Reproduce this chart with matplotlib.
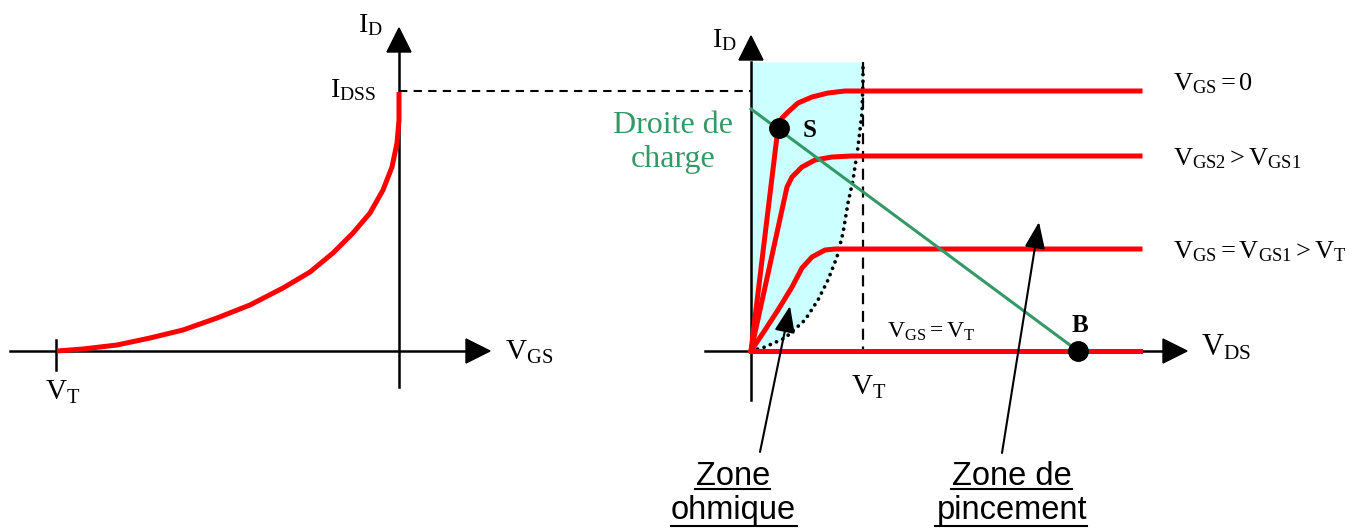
import matplotlib.pyplot as plt

plt.rcParams['font.family'] = ['Liberation Serif', 'DejaVu Serif']
plt.rcParams['mathtext.fontset'] = 'custom'
plt.rcParams['mathtext.rm'] = 'Liberation Serif'
plt.rcParams['mathtext.it'] = 'Liberation Serif:italic'
plt.rcParams['mathtext.bf'] = 'Liberation Serif:bold'

RED = '#ff0000'
GREEN = '#339966'
CYAN = '#ccffff'

# --- transfer characteristic ID(VGS), drawing units ---
transfer_x = [57, 83, 117, 150, 183, 217, 250, 283, 310, 333, 353, 370, 383, 392, 397, 399, 399]
transfer_y = [351, 349, 345, 338, 330, 318, 305, 288, 272, 253, 233, 213, 190, 167, 143, 120, 92]
vt_left = 56
idss_level = 91

# --- output characteristics ID(VDS) ---
vt_right = 863
curve_end = 1140
vgs0_x = [751, 778, 782, 788, 798, 812, 828, 845, 875, curve_end]
vgs0_y = [351, 128, 118, 112, 103, 97, 93, 91, 91, 91]
vgs2_x = [751, 787, 792, 802, 815, 832, 852, 875, curve_end]
vgs2_y = [351, 187, 177, 167, 160, 157, 156, 156, 156]
vgs1_x = [751, 765, 778, 792, 802, 812, 825, 835, 875, curve_end]
vgs1_y = [351, 330, 310, 287, 268, 257, 250, 249, 249, 249]
vgst_x = [751, curve_end]
vgst_y = [351, 351]

# pinch-off boundary (dotted)
pinch_x = [751, 765, 785, 805, 818, 828, 837, 843, 848, 853, 858, 862, 863, 863]
pinch_y = [351, 347, 338, 320, 300, 280, 257, 233, 203, 180, 147, 113, 80, 62]

# load line and operating points
load_x = [751, 1078]
load_y = [109, 351]
point_s = (779, 128)
point_b = (1078, 351)

curve_labels = [r'$\mathrm{V_{GS}} = 0$',
                r'$\mathrm{V_{GS2}} > \mathrm{V_{GS1}}$',
                r'$\mathrm{V_{GS}} = \mathrm{V_{GS1}} > \mathrm{V_T}$']
curve_label_y = [90, 165, 258]

fig = plt.figure(figsize=(13.59, 5.31), dpi=100)
ax = fig.add_axes([0, 0, 1, 1])
ax.set_xlim(0, 1359)
ax.set_ylim(531, 0)
ax.axis('off')


def head(tip, dx, dy, length=24, half=12):
    tx, ty = tip
    bx, by = tx - dx * length, ty - dy * length
    px, py = -dy * half, dx * half
    ax.fill([tx, bx + px, bx - px], [ty, by + py, by - py], color='black', zorder=6)


# left axes
ax.plot([10, 467], [351, 351], color='black', lw=1.8, zorder=3)
ax.plot([399, 399], [387, 52], color='black', lw=1.8, zorder=3)
head((490, 351), 1, 0)
head((399, 28), 0, -1)
ax.plot([vt_left, vt_left], [340, 370], color='black', lw=1.8, zorder=3)
ax.plot(transfer_x, transfer_y, color=RED, lw=3.6, solid_capstyle='butt',
        solid_joinstyle='round', zorder=4)
ax.plot([399, 751], [idss_level, idss_level], color='black', lw=1.5,
        dashes=(4, 3), zorder=3)

ax.text(358, 32, r'$\mathrm{I_D}$', fontsize=20, ha='left', va='baseline')
ax.text(330, 97, r'$\mathrm{I_{DSS}}$', fontsize=20, ha='left', va='baseline')
ax.text(505, 360, r'$\mathrm{V_{GS}}$', fontsize=21, ha='left', va='baseline')
ax.text(45, 400, r'$\mathrm{V_T}$', fontsize=21, ha='left', va='baseline')

# right axes: ohmic zone shading
ax.fill_betweenx(pinch_y, [751] * len(pinch_x), pinch_x, color=CYAN, lw=0, zorder=1)
ax.plot(pinch_x, pinch_y, color='black', lw=2.7, ls=(0, (0.01, 1.8)),
        dash_capstyle='round', zorder=3)
ax.plot([vt_right, vt_right], [62, 351], color='black', lw=1.6, dashes=(5, 3), zorder=3)

ax.plot([705, 1162], [351, 351], color='black', lw=1.8, zorder=3)
ax.plot([751, 751], [400, 62], color='black', lw=1.8, zorder=3)
head((1187, 351), 1, 0)
head((751, 36), 0, -1)

for xs, ys in [(vgs0_x, vgs0_y), (vgs2_x, vgs2_y), (vgs1_x, vgs1_y), (vgst_x, vgst_y)]:
    ax.plot(xs, ys, color=RED, lw=3.6, solid_joinstyle='round', zorder=4)

ax.plot(load_x, load_y, color=GREEN, lw=2.2, zorder=5)
ax.plot(*point_s, 'o', color='black', markersize=14, zorder=7)
ax.plot(*point_b, 'o', color='black', markersize=14, zorder=7)

ax.text(803, 137, 'S', fontsize=18, fontweight='bold', ha='left', va='baseline')
ax.text(1072, 332, 'B', fontsize=18, fontweight='bold', ha='left', va='baseline')
ax.text(673, 133, 'Droite de', fontsize=23, color=GREEN, ha='center', va='baseline')
ax.text(673, 167, 'charge', fontsize=23, color=GREEN, ha='center', va='baseline')

ax.text(712, 47, r'$\mathrm{I_D}$', fontsize=20, ha='left', va='baseline')
ax.text(1201, 355, r'$\mathrm{V_{DS}}$', fontsize=22, ha='left', va='baseline')
ax.text(851, 395, r'$\mathrm{V_T}$', fontsize=21, ha='left', va='baseline')
ax.text(887, 338, r'$\mathrm{V_{GS}} = \mathrm{V_T}$', fontsize=17, ha='left', va='baseline')
for lab, y in zip(curve_labels, curve_label_y):
    ax.text(1173, y, lab, fontsize=19, ha='left', va='baseline')

# zone annotations
arrow = dict(arrowstyle='-|>,head_length=0.9,head_width=0.35', color='black', lw=1.5,
             shrinkA=0, shrinkB=0, mutation_scale=18)
ax.annotate('', xy=(790, 306), xytext=(760, 452), arrowprops=arrow, zorder=6)
ax.annotate('', xy=(1039, 222), xytext=(1002, 453), arrowprops=arrow, zorder=6)

sans = ['Liberation Sans', 'DejaVu Sans']
# text, centre x, baseline y, underline x0, x1, underline y
zone_text = [('Zone', 733, 485, 695, 770, 489), ('ohmique', 733, 519, 671, 797, 526),
             ('Zone de', 1012, 485, 951, 1072, 489), ('pincement', 1012, 519, 935, 1087, 526)]
for txt, x, y, x0, x1, uy in zone_text:
    ax.text(x, y, txt, fontsize=23.5, family=sans, ha='center', va='baseline')
    ax.plot([x0, x1], [uy, uy], color='black', lw=1.5)

fig.savefig('out.png', dpi=100)
